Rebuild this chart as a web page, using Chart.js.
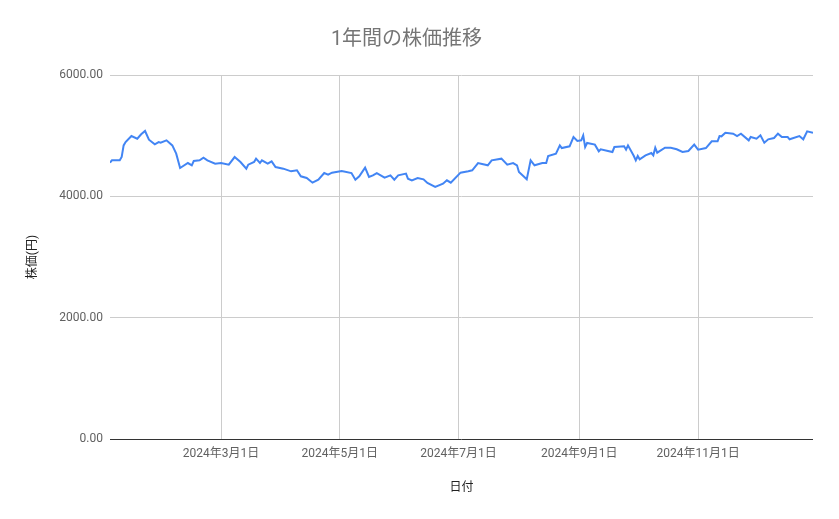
<!DOCTYPE html>
<html>
<head>
<meta charset="utf-8">
<script src="https://cdn.jsdelivr.net/npm/chart.js@4"></script>
<style>
  html, body { margin: 0; padding: 0; background: #fff; }
  #wrap { width: 839px; height: 519px; }
</style>
</head>
<body>
<div id="wrap"><canvas id="priceChart" width="839" height="519"></canvas></div>
<script>
// 日付と終値
const dates = [
  "2024-01-04","2024-01-05","2024-01-09","2024-01-10","2024-01-11","2024-01-12","2024-01-15","2024-01-18",
  "2024-01-20","2024-01-22","2024-01-24","2024-01-27","2024-01-29","2024-01-30","2024-02-02","2024-02-05",
  "2024-02-07","2024-02-09","2024-02-13","2024-02-15","2024-02-16","2024-02-19","2024-02-21","2024-02-23",
  "2024-02-27","2024-03-01","2024-03-05","2024-03-08","2024-03-11","2024-03-14","2024-03-15","2024-03-18",
  "2024-03-19","2024-03-21","2024-03-22","2024-03-25","2024-03-27","2024-03-29","2024-04-02","2024-04-06",
  "2024-04-09","2024-04-11","2024-04-14","2024-04-17","2024-04-20","2024-04-23","2024-04-25","2024-04-27",
  "2024-05-02","2024-05-07","2024-05-09","2024-05-11","2024-05-14","2024-05-16","2024-05-18","2024-05-20",
  "2024-05-24","2024-05-27","2024-05-29","2024-05-31","2024-06-04","2024-06-05","2024-06-07","2024-06-10",
  "2024-06-13","2024-06-15","2024-06-19","2024-06-23","2024-06-25","2024-06-27","2024-07-02","2024-07-06",
  "2024-07-08","2024-07-11","2024-07-16","2024-07-18","2024-07-23","2024-07-26","2024-07-29","2024-07-31",
  "2024-08-01","2024-08-05","2024-08-07","2024-08-09","2024-08-13","2024-08-15","2024-08-16","2024-08-20",
  "2024-08-22","2024-08-23","2024-08-27","2024-08-29","2024-08-31","2024-09-02","2024-09-03","2024-09-04",
  "2024-09-05","2024-09-09","2024-09-11","2024-09-12","2024-09-18","2024-09-19","2024-09-24","2024-09-25",
  "2024-09-26","2024-09-29","2024-09-30","2024-10-01","2024-10-02","2024-10-05","2024-10-08","2024-10-09",
  "2024-10-10","2024-10-11","2024-10-15","2024-10-18","2024-10-21","2024-10-24","2024-10-27","2024-10-30",
  "2024-11-01","2024-11-05","2024-11-08","2024-11-11","2024-11-12","2024-11-13","2024-11-15","2024-11-19",
  "2024-11-21","2024-11-23","2024-11-27","2024-11-28","2024-12-01","2024-12-03","2024-12-05","2024-12-07",
  "2024-12-10","2024-12-12","2024-12-14","2024-12-17","2024-12-18","2024-12-23","2024-12-25","2024-12-27",
  "2024-12-30"
];
const prices = [
  4555,4593,4593,4648,4840,4895,4994,4950,
  5022,5077,4934,4857,4895,4885,4923,4840,
  4703,4467,4549,4511,4582,4593,4637,4593,
  4538,4549,4522,4648,4566,4456,4522,4566,
  4621,4549,4593,4538,4577,4483,4456,4412,
  4429,4330,4302,4225,4275,4384,4357,4390,
  4418,4384,4275,4330,4473,4319,4346,4384,
  4308,4346,4275,4346,4374,4291,4264,4302,
  4280,4220,4154,4209,4264,4225,4390,4412,
  4429,4549,4511,4593,4621,4522,4549,4511,
  4401,4280,4593,4511,4549,4549,4665,4703,
  4840,4796,4824,4978,4912,4923,5005,4813,
  4879,4852,4742,4775,4731,4813,4824,4769,
  4840,4665,4593,4665,4610,4676,4714,4676,
  4802,4720,4802,4802,4775,4731,4747,4852,
  4769,4796,4907,4907,4994,4989,5049,5033,
  4994,5033,4923,4978,4950,5005,4885,4940,
  4961,5033,4978,4978,4940,4994,4940,5071,
  5049
];
const tickDates = ["2024-03-01","2024-05-01","2024-07-01","2024-09-01","2024-11-01"];
const tickLabels = ["2024年3月1日","2024年5月1日","2024年7月1日","2024年9月1日","2024年11月1日"];
const yTicks = [0, 2000, 4000, 6000];

const FONT = "Roboto, 'Noto Sans CJK JP', sans-serif";

function dayOfYear(s) {
  const p = s.split("-").map(Number);
  return (Date.UTC(p[0], p[1] - 1, p[2]) - Date.UTC(p[0], 0, 1)) / 86400000;
}

const points = dates.map((d, i) => ({ x: dayOfYear(d), y: prices[i] }));
const tickDays = tickDates.map(dayOfYear);

const ctx = document.getElementById("priceChart").getContext("2d");
const priceChart = new Chart(ctx, {
  type: "line",
  data: {
    datasets: [{
      label: "株価",
      data: points,
      borderColor: "#4285F4",
      borderWidth: 2,
      pointRadius: 0,
      tension: 0,
      fill: false
    }]
  },
  options: {
    responsive: false,
    animation: false,
    layout: { padding: { left: 0, right: 26, top: 0, bottom: 0 } },
    plugins: {
      legend: { display: false },
      tooltip: { enabled: false },
      title: {
        display: true,
        text: "1年間の株価推移",
        color: "#757575",
        font: { family: FONT, size: 20, weight: "normal" },
        padding: { top: 28, bottom: 23 }
      }
    },
    scales: {
      x: {
        type: "linear",
        min: points[0].x,
        max: points[points.length - 1].x,
        afterBuildTicks: function (scale) {
          scale.ticks = tickDays.map(v => ({ value: v }));
        },
        afterFit: function (scale) { scale.height = 80; },
        ticks: {
          autoSkip: false,
          maxRotation: 0,
          padding: 8,
          color: "#616161",
          font: { family: FONT, size: 12 },
          callback: function (value) {
            const i = tickDays.indexOf(value);
            return i >= 0 ? tickLabels[i] : "";
          }
        },
        grid: { color: "#cccccc", drawTicks: false, lineWidth: 1 },
        border: { display: false },
        title: {
          display: true,
          text: "日付",
          color: "#222222",
          font: { family: FONT, size: 12 },
          padding: { top: 0, bottom: 24 }
        }
      },
      y: {
        min: 0,
        max: 6000,
        afterBuildTicks: function (scale) {
          scale.ticks = yTicks.map(v => ({ value: v }));
        },
        afterFit: function (scale) { scale.width = 110; },
        ticks: {
          padding: 7,
          color: "#616161",
          font: { family: FONT, size: 12 },
          callback: function (value) { return Number(value).toFixed(2); }
        },
        grid: {
          drawTicks: false,
          color: function (c) { return c.tick && c.tick.value === 0 ? "#333333" : "#cccccc"; }
        },
        border: { display: false },
        title: {
          display: true,
          text: "株価(円)",
          color: "#222222",
          font: { family: FONT, size: 12 },
          padding: { top: 26, bottom: 0 }
        }
      }
    }
  }
});
</script>
</body>
</html>
